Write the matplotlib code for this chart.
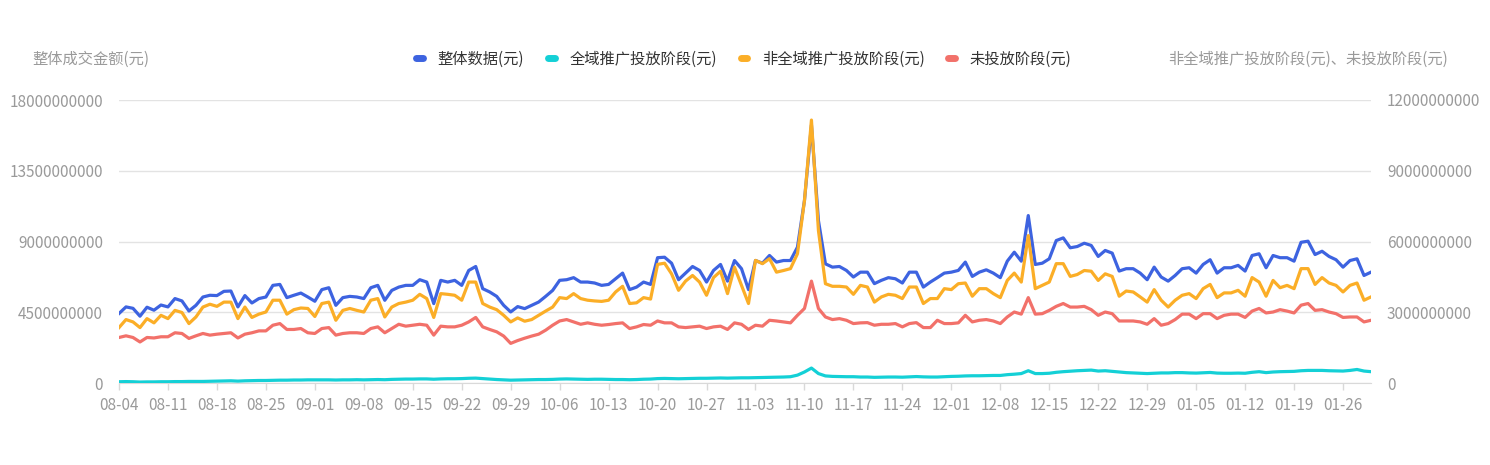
import matplotlib
matplotlib.use("Agg")
import matplotlib.pyplot as plt
from matplotlib.lines import Line2D
from matplotlib.ticker import FixedLocator, FuncFormatter
import numpy as np
import datetime as dt

plt.rcParams['font.family'] = ['Noto Sans CJK SC', 'DejaVu Sans']

# ---- data (values in units of 1e9 yuan) ----
start = dt.date(2023, 8, 4)
n_days = 180
dates = [start + dt.timedelta(days=i) for i in range(n_days)]
date_labels = [d.strftime("%m-%d") for d in dates]

total = [4.42,4.84,4.75,4.25,4.82,4.63,4.96,4.84,5.37,5.22,4.58,4.94,5.47,5.58,5.56,5.83,5.85,4.84,5.56,5.09,5.37,5.47,6.21,6.27,5.43,5.58,5.72,5.47,5.20,
         5.94,6.06,4.94,5.43,5.51,5.47,5.37,6.06,6.21,5.26,5.89,6.10,6.21,6.21,6.57,6.42,5.05,6.53,6.42,6.53,6.21,7.16,7.41,6.00,5.79,5.51,4.94,4.52,4.86,4.73,
         4.94,5.15,5.51,5.89,6.53,6.57,6.70,6.42,6.42,6.36,6.21,6.27,6.63,6.99,5.94,6.10,6.42,6.27,7.97,8.00,7.62,6.57,6.99,7.41,7.16,6.42,7.16,7.54,6.48,7.79,
         7.27,5.94,7.79,7.62,8.11,7.69,7.79,7.79,8.64,11.60,16.40,10.33,7.58,7.37,7.41,7.16,6.74,7.05,7.05,6.32,6.53,6.70,6.63,6.36,7.05,7.05,6.10,6.42,6.70,6.99,
         7.05,7.16,7.69,6.78,7.05,7.20,6.99,6.70,7.75,8.32,7.75,10.65,7.54,7.62,7.90,9.06,9.23,8.60,8.68,8.89,8.75,8.05,8.43,8.26,7.12,7.27,7.27,6.99,6.57,7.37,
         6.74,6.48,6.84,7.27,7.33,6.99,7.54,7.84,6.99,7.33,7.33,7.48,7.12,8.11,8.22,7.33,8.11,7.97,7.97,7.75,8.95,9.02,8.17,8.38,8.05,7.84,7.37,7.79,7.90,6.84,7.05]

full_domain = [0.08,0.09,0.08,0.06,0.07,0.07,0.08,0.08,0.09,0.09,0.10,0.10,0.10,0.11,0.12,0.13,0.14,0.12,0.14,0.15,0.16,
               0.16,0.17,0.18,0.18,0.19,0.19,0.20,0.20,0.20,0.20,0.19,0.20,0.20,0.21,0.20,0.21,0.22,0.21,0.23,0.24,0.25,
               0.25,0.26,0.26,0.24,0.26,0.27,0.27,0.28,0.30,0.31,0.28,0.25,0.22,0.20,0.18,0.19,0.20,0.21,0.22,0.22,0.23,
               0.25,0.26,0.25,0.24,0.23,0.24,0.24,0.23,0.22,0.22,0.21,0.22,0.24,0.25,0.28,0.29,0.28,0.27,0.28,0.29,0.30,
               0.30,0.31,0.32,0.31,0.32,0.33,0.33,0.34,0.35,0.36,0.37,0.38,0.40,0.50,0.70,0.95,0.60,0.45,0.42,0.41,0.40,
               0.40,0.38,0.38,0.36,0.37,0.38,0.38,0.37,0.39,0.41,0.39,0.38,0.38,0.40,0.42,0.43,0.45,0.46,0.46,0.47,0.48,
               0.48,0.53,0.56,0.60,0.78,0.60,0.60,0.62,0.68,0.72,0.75,0.78,0.80,0.82,0.76,0.78,0.74,0.70,0.66,0.64,0.62,
               0.60,0.62,0.64,0.64,0.66,0.66,0.64,0.63,0.65,0.67,0.63,0.62,0.62,0.63,0.62,0.68,0.72,0.66,0.70,0.72,0.73,
               0.74,0.78,0.80,0.80,0.80,0.78,0.77,0.76,0.80,0.86,0.76,0.72]

non_full = [2.35,2.69,2.59,2.35,2.73,2.55,2.87,2.73,3.08,2.99,2.52,2.80,3.22,3.34,3.25,3.43,3.43,2.73,3.22,2.78,2.92,3.01,3.51,3.51,2.92,3.11,3.18,3.16,2.82,
            3.37,3.43,2.66,3.08,3.16,3.08,3.01,3.51,3.58,2.80,3.22,3.37,3.43,3.51,3.76,3.58,2.78,3.79,3.76,3.72,3.51,4.28,4.28,3.37,3.22,3.11,2.87,2.59,2.76,2.62,
            2.69,2.87,3.05,3.22,3.62,3.58,3.79,3.58,3.51,3.48,3.46,3.51,3.86,4.10,3.37,3.40,3.62,3.56,5.03,5.08,4.63,3.93,4.32,4.56,4.28,3.72,4.47,4.74,3.79,4.91,
            4.14,3.37,5.20,5.06,5.27,4.70,4.77,4.85,5.48,7.73,11.15,6.46,4.21,4.10,4.10,4.07,3.76,4.14,4.07,3.43,3.65,3.76,3.72,3.58,4.07,4.07,3.37,3.58,3.58,4.00,
            3.96,4.21,4.24,3.68,4.00,4.00,3.79,3.62,4.35,4.66,4.28,6.25,4.00,4.14,4.28,5.06,5.06,4.52,4.60,4.77,4.74,4.35,4.63,4.52,3.68,3.90,3.86,3.65,3.43,3.96,
            3.51,3.22,3.51,3.72,3.79,3.58,4.00,4.18,3.62,3.82,3.82,3.93,3.68,4.47,4.28,3.68,4.35,4.04,4.14,4.00,4.85,4.85,4.18,4.47,4.24,4.14,3.86,4.14,4.24,3.51,3.65]

no_ads = [1.93,2.00,1.93,1.74,1.93,1.91,1.96,1.96,2.13,2.10,1.89,2.00,2.10,2.03,2.07,2.10,2.13,1.91,2.07,2.13,2.21,2.21,2.45,2.52,2.27,2.27,2.31,2.13,2.10,
          2.31,2.35,2.03,2.10,2.13,2.13,2.10,2.31,2.38,2.13,2.31,2.49,2.41,2.45,2.49,2.45,2.03,2.41,2.38,2.38,2.45,2.59,2.78,2.38,2.27,2.17,1.99,1.68,1.80,1.90,
          1.99,2.07,2.24,2.45,2.63,2.69,2.59,2.49,2.55,2.49,2.45,2.48,2.52,2.55,2.31,2.38,2.48,2.45,2.63,2.55,2.55,2.38,2.35,2.38,2.41,2.31,2.38,2.41,2.27,2.55,
          2.49,2.27,2.45,2.41,2.66,2.63,2.59,2.55,2.87,3.16,4.32,3.16,2.80,2.69,2.73,2.66,2.52,2.55,2.56,2.45,2.49,2.49,2.52,2.38,2.52,2.56,2.35,2.35,2.66,2.52,
          2.52,2.55,2.87,2.59,2.66,2.69,2.63,2.52,2.80,3.01,2.92,3.62,2.92,2.94,3.08,3.25,3.37,3.22,3.22,3.25,3.11,2.87,3.01,2.94,2.63,2.63,2.63,2.59,2.49,2.73,
          2.45,2.52,2.69,2.92,2.92,2.73,2.94,2.94,2.73,2.87,2.92,2.92,2.78,3.05,3.16,2.97,3.01,3.11,3.05,2.97,3.30,3.37,3.08,3.11,3.01,2.94,2.78,2.80,2.80,2.59,2.66]

series_names = ["整体数据(元)", "全域推广投放阶段(元)", "非全域推广投放阶段(元)", "未投放阶段(元)"]
left_ticks = [0, 4500000000, 9000000000, 13500000000, 18000000000]
right_ticks = [0, 3000000000, 6000000000, 9000000000, 12000000000]
left_title = "整体成交金额(元)"
right_title = "非全域推广投放阶段(元)、未投放阶段(元)"

colors = ["#3d63e0", "#14d0d6", "#fbae27", "#f2716a"]
scale = 1e9

fig = plt.figure(figsize=(14.9, 4.65), dpi=100)
ax = fig.add_axes([119/1490, 1 - 383/465, (1371-119)/1490, (383-100)/465])
ax2 = ax.twinx()

x = np.arange(n_days)
lw = 2.3
ax.plot(x, np.array(total)*scale, color=colors[0], lw=lw, solid_joinstyle='round', zorder=3)
ax.plot(x, np.array(full_domain)*scale, color=colors[1], lw=lw, solid_joinstyle='round', zorder=3)
ax2.plot(x, np.array(non_full)*scale, color=colors[2], lw=lw, solid_joinstyle='round', zorder=3)
ax2.plot(x, np.array(no_ads)*scale, color=colors[3], lw=lw, solid_joinstyle='round', zorder=3)

ax.set_xlim(0, n_days - 1)
ax.set_ylim(left_ticks[0], left_ticks[-1])
ax2.set_ylim(right_ticks[0], right_ticks[-1])

fmt = FuncFormatter(lambda v, p: "%d" % round(v))
ax.yaxis.set_major_locator(FixedLocator(left_ticks))
ax.yaxis.set_major_formatter(fmt)
ax2.yaxis.set_major_locator(FixedLocator(right_ticks))
ax2.yaxis.set_major_formatter(fmt)

xt = list(range(0, n_days, 7))
ax.set_xticks(xt)
ax.set_xticklabels([date_labels[i] for i in xt])

grey = "#9a9a9a"
fs = 11
for a in (ax, ax2):
    for s in a.spines.values():
        s.set_visible(False)
    a.tick_params(axis='y', length=0, labelsize=fs, labelcolor=grey, pad=11.5)
ax.tick_params(axis='x', length=5, width=1, color="#d9d9d9", labelsize=fs, labelcolor=grey, pad=5)
ax.spines['bottom'].set_visible(True)
ax.spines['bottom'].set_color("#d9d9d9")
ax.grid(axis='y', color="#e3e3e3", lw=1)
ax.set_axisbelow(True)

fig.text(32/1490, 1 - 59/465, left_title, fontsize=fs, color=grey, ha='left', va='center')
fig.text(1448/1490, 1 - 59/465, right_title, fontsize=fs, color=grey, ha='right', va='center')

handles = [Line2D([0], [0], color=c, lw=5, solid_capstyle='round') for c in colors]
fig.legend(handles, series_names, loc='center', bbox_to_anchor=(744/1490, 1 - 59/465), ncol=4,
           frameon=False, fontsize=fs, handlelength=0.45, handletextpad=0.95, columnspacing=1.55,
           labelcolor="#333333")

fig.savefig("out.png", dpi=100)
